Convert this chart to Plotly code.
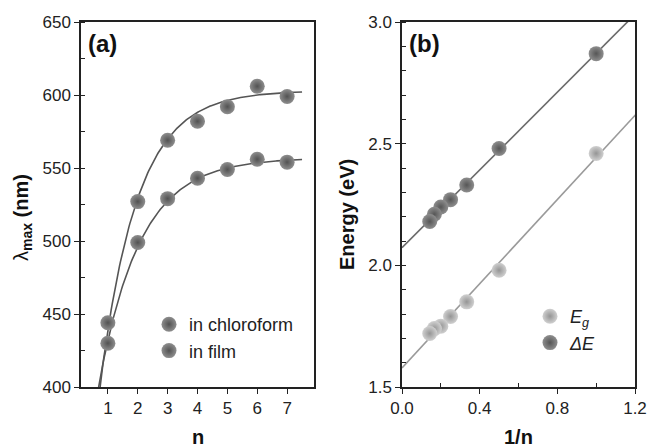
import numpy as np
import plotly.graph_objects as go

# ---------------- data ----------------
n_vals = [1, 2, 3, 4, 5, 6, 7]
lam_film = [444, 527, 569, 582, 592, 606, 599]
lam_chloroform = [430, 499, 529, 543, 549, 556, 554]

inv_n = [1.0, 0.5, 1 / 3, 0.25, 0.2, 1 / 6, 1 / 7]
delta_E = [2.87, 2.48, 2.33, 2.27, 2.24, 2.21, 2.18]
E_g = [2.46, 1.98, 1.85, 1.79, 1.75, 1.74, 1.72]

# exponential fit parameters: y = A - B*exp(-k*n)
fit_film = dict(A=603, B=365, k=0.80)
fit_chloro = dict(A=557, B=257, k=0.72)

FONT = "Liberation Sans, Arial, Helvetica, sans-serif"
AX = "#222222"

def sphere(center, edge):
    return dict(size=15, color=center, gradient=dict(type="radial", color=edge),
                line=dict(width=0))

fig = go.Figure()

# ---- panel (a) fits ----
n_fit = np.linspace(0.55, 7.5, 200)
for p in (fit_film, fit_chloro):
    fig.add_trace(go.Scatter(x=n_fit, y=p["A"] - p["B"] * np.exp(-p["k"] * n_fit),
                             mode="lines", line=dict(color="#555555", width=1.6),
                             showlegend=False, hoverinfo="skip", xaxis="x", yaxis="y"))
fig.add_trace(go.Scatter(x=n_vals, y=lam_film, mode="markers", name="in chloroform",
                         marker=sphere("#8e8e8e", "#525252"), xaxis="x", yaxis="y",
                         legend="legend"))
fig.add_trace(go.Scatter(x=n_vals, y=lam_chloroform, mode="markers", name="in film",
                         marker=sphere("#8e8e8e", "#525252"), xaxis="x", yaxis="y",
                         legend="legend"))

# ---- panel (b) linear fits ----
x_fit = np.array([0.0, 1.25])
for data, col in ((delta_E, "#6a6a6a"), (E_g, "#9a9a9a")):
    m, c = np.polyfit(inv_n, data, 1)
    fig.add_trace(go.Scatter(x=x_fit, y=m * x_fit + c, mode="lines",
                             line=dict(color=col, width=1.6), showlegend=False,
                             hoverinfo="skip", xaxis="x2", yaxis="y2"))
fig.add_trace(go.Scatter(x=inv_n, y=E_g, mode="markers", name="<i>E<sub>g</sub></i>",
                         marker=sphere("#d0d0d0", "#959595"), xaxis="x2", yaxis="y2",
                         legend="legend2"))
fig.add_trace(go.Scatter(x=inv_n, y=delta_E, mode="markers", name="<i>ΔE</i>",
                         marker=sphere("#8e8e8e", "#565656"), xaxis="x2", yaxis="y2",
                         legend="legend2"))

W, H = 651, 448
T, B = 22, 61
PH = H - T - B

def px_x(px):
    return px / W

def px_y(py):
    return (H - B - py) / PH

axis_common = dict(showline=True, linecolor=AX, linewidth=1.5, mirror=True,
                   ticks="outside", ticklen=5, tickwidth=1.3, tickcolor=AX,
                   showgrid=False, zeroline=False, automargin=False,
                   tickfont=dict(family=FONT, size=17, color=AX))

fig.update_layout(
    width=W, height=H,
    margin=dict(l=0, r=0, t=T, b=B, autoexpand=False),
    paper_bgcolor="white", plot_bgcolor="white",
    xaxis=dict(domain=[px_x(81), px_x(314)], range=[0.1, 7.9],
               tickvals=n_vals, **axis_common),
    yaxis=dict(range=[400, 650], tickvals=[400, 450, 500, 550, 600, 650],
               minor=dict(dtick=25, ticks="inside", ticklen=4, tickcolor=AX),
               **axis_common),
    xaxis2=dict(domain=[px_x(402), px_x(635)], range=[0, 1.2],
                tickvals=[0, 0.4, 0.8, 1.2], ticktext=["0.0", "0.4", "0.8", "1.2"],
                minor=dict(tickvals=[0.2, 0.6, 1.0], ticks="inside", ticklen=4, tickcolor=AX),
                anchor="y2", **axis_common),
    yaxis2=dict(range=[1.5, 3.0], tickvals=[1.5, 2.0, 2.5, 3.0],
                ticktext=["1.5", "2.0", "2.5", "3.0"],
                minor=dict(dtick=0.1, ticks="inside", ticklen=4, tickcolor=AX),
                anchor="x2", **axis_common),
    legend=dict(x=px_x(149), y=px_y(306), xanchor="left", yanchor="top",
                bgcolor="rgba(0,0,0,0)", font=dict(family=FONT, size=18, color=AX),
                tracegroupgap=0),
    legend2=dict(x=px_x(530), y=px_y(298), xanchor="left", yanchor="top",
                 bgcolor="rgba(0,0,0,0)", font=dict(family=FONT, size=18, color=AX),
                 tracegroupgap=0),
    annotations=[
        dict(text="<b>(a)</b>", x=px_x(86), y=px_y(43), xref="paper", yref="paper",
             xanchor="left", yanchor="middle", showarrow=False,
             font=dict(family=FONT, size=24, color="#111")),
        dict(text="<b>(b)</b>", x=px_x(407), y=px_y(43), xref="paper", yref="paper",
             xanchor="left", yanchor="middle", showarrow=False,
             font=dict(family=FONT, size=24, color="#111")),
        dict(text="<b>n</b>", x=px_x(198), y=px_y(437), xref="paper", yref="paper",
             xanchor="center", yanchor="middle", showarrow=False,
             font=dict(family=FONT, size=20, color="#111")),
        dict(text="<b>1/n</b>", x=px_x(518), y=px_y(437), xref="paper", yref="paper",
             xanchor="center", yanchor="middle", showarrow=False,
             font=dict(family=FONT, size=20, color="#111")),
        dict(text="λ<sub><b>max</b></sub><b> (nm)</b>", x=px_x(22), y=px_y(218),
             xref="paper", yref="paper", xanchor="center", yanchor="middle",
             textangle=-90, showarrow=False,
             font=dict(family=FONT, size=20, color="#111")),
        dict(text="<b>Energy (eV)</b>", x=px_x(347), y=px_y(215),
             xref="paper", yref="paper", xanchor="center", yanchor="middle",
             textangle=-90, showarrow=False,
             font=dict(family=FONT, size=20, color="#111")),
    ],
)

fig.write_html("out.html")
